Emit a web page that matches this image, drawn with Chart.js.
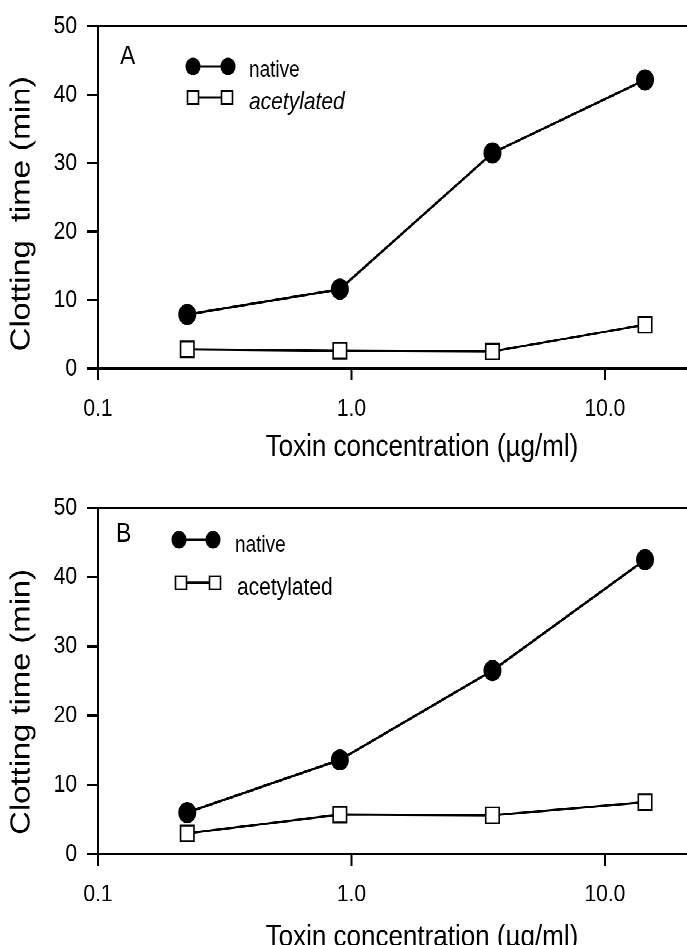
<!DOCTYPE html>
<html>
<head>
<meta charset="utf-8">
<script src="https://cdn.jsdelivr.net/npm/chart.js@4.4.0/dist/chart.umd.min.js"></script>
<style>
  html, body { margin: 0; padding: 0; background: #fff; overflow: hidden; width: 687px; height: 945px; }
  /* the scanned figure is a bit taller than wide, so stretch the drawing vertically;
     the plots run past the right edge of the page like in the cropped scan */
  #stage { position: absolute; left: 0; top: 0; width: 757px; height: 808px; transform: scaleY(1.17); transform-origin: 0 0; }
  .panel { position: absolute; left: 0; }
  #boxA { top: 0; }
  #boxB { top: 404px; }
</style>
</head>
<body>
<div id="stage">
  <div class="panel" id="boxA"><canvas id="chartA" width="757" height="404"></canvas></div>
  <div class="panel" id="boxB"><canvas id="chartB" width="757" height="419"></canvas></div>
</div>
<script>
// toxin concentrations (µg/ml), same for both panels
const concentrations = [0.225, 0.9, 3.6, 14.4];

// panel A: clotting time (min)
const nativeA = [7.9, 11.6, 31.5, 42.2];
const acetylatedA = [2.8, 2.6, 2.5, 6.4];

// panel B: clotting time (min)
const nativeB = [6.0, 13.6, 26.5, 42.5];
const acetylatedB = [3.0, 5.7, 5.6, 7.5];

const seriesNames = ['native', 'acetylated'];
const yTicks = [0, 10, 20, 30, 40, 50];
const xTicks = [0.1, 1, 10];
const xTickLabels = ['0.1', '1.0', '10.0'];

const FAMILY = 'Arial, "Liberation Sans", Helvetica, sans-serif';
Chart.defaults.font.family = FAMILY;
Chart.defaults.color = '#000';

// letter + in-plot legend (marker-line-marker, then the name)
const panelLegend = {
  id: 'panelLegend',
  afterDatasetsDraw(chart, args, o) {
    const ctx = chart.ctx;
    const left = chart.chartArea.left, top = chart.chartArea.top;
    ctx.save();
    ctx.fillStyle = '#000';
    ctx.strokeStyle = '#000';
    ctx.textAlign = 'left';
    ctx.textBaseline = 'alphabetic';
    ctx.font = '23px ' + FAMILY;
    ctx.fillText(o.letter, left + o.letterX, top + o.letterY);

    chart.data.datasets.forEach((ds, i) => {
      const row = o.rows[i];
      const y = top + row.iconY;
      const xs = [left + row.x1, left + row.x2];
      ctx.lineWidth = 2;
      ctx.beginPath();
      ctx.moveTo(xs[0], y);
      ctx.lineTo(xs[1], y);
      ctx.stroke();
      xs.forEach(x => {
        if (ds.pointStyle === 'circle') {
          ctx.beginPath();
          ctx.arc(x, y, 7.5, 0, Math.PI * 2);
          ctx.fill();
        } else {
          ctx.fillStyle = '#fff';
          ctx.fillRect(x - 5.5, y - 5.5, 11, 11);
          ctx.lineWidth = 1.6;
          ctx.strokeRect(x - 5.5, y - 5.5, 11, 11);
          ctx.fillStyle = '#000';
        }
      });
      ctx.font = (row.italic ? 'italic ' : '') + row.size + 'px ' + FAMILY;
      ctx.fillText(ds.label, left + row.textX, top + row.textY);
    });
    ctx.restore();
  }
};

function makePanel(canvasId, nativeVals, acetVals, cfg) {
  const toPoints = vals => concentrations.map((c, i) => ({ x: c, y: vals[i] }));

  return new Chart(document.getElementById(canvasId), {
    type: 'line',
    data: {
      datasets: [{
        label: seriesNames[0],
        data: toPoints(nativeVals),
        borderColor: '#000',
        borderWidth: 2.2,
        pointStyle: 'circle',
        pointRadius: 8.5,
        pointBackgroundColor: '#000',
        pointBorderColor: '#000',
        pointBorderWidth: 1
      }, {
        label: seriesNames[1],
        data: toPoints(acetVals),
        borderColor: '#000',
        borderWidth: 2,
        pointStyle: 'rect',
        pointRadius: 9.5,
        pointBackgroundColor: '#fff',
        pointBorderColor: '#000',
        pointBorderWidth: 1.6
      }]
    },
    options: {
      responsive: false,
      devicePixelRatio: 2,
      animation: false,
      layout: { padding: { top: cfg.padTop, right: 0, left: 0, bottom: 0 } },
      scales: {
        x: {
          type: 'logarithmic',
          min: 0.1,
          max: 36,
          afterBuildTicks: s => { s.ticks = xTicks.map(v => ({ value: v })); },
          afterFit: s => { s.height = cfg.xHeight; },
          ticks: {
            autoSkip: false,
            maxRotation: 0,
            padding: 12,
            font: { size: 21 },
            color: '#000',
            callback: v => xTickLabels[xTicks.indexOf(v)]
          },
          grid: { drawOnChartArea: false, tickLength: 10, tickColor: '#000', tickWidth: 2 },
          border: { display: true, color: '#000', width: 2 },
          title: {
            display: true,
            text: 'Toxin concentration (µg/ml)',
            font: { size: 26 },
            color: '#000',
            padding: { top: 0, bottom: 6 }
          }
        },
        y: {
          min: 0,
          max: 50,
          afterBuildTicks: s => { s.ticks = yTicks.map(v => ({ value: v })); },
          afterFit: s => { s.width = 98; },
          ticks: { padding: 10, font: { size: 21 }, color: '#000' },
          grid: {
            color: c => (c.tick && c.tick.value === 50) ? '#000' : 'rgba(0,0,0,0)',
            lineWidth: 2,
            tickColor: '#000',
            tickLength: 11,
            tickWidth: 2
          },
          border: { display: true, color: '#000', width: 2 },
          title: {
            display: true,
            text: cfg.yTitle,
            font: { size: 28 },
            color: '#000',
            padding: { top: 5, bottom: 0 }
          }
        }
      },
      plugins: {
        legend: { display: false },
        tooltip: { enabled: false },
        panelLegend: cfg.legend
      }
    },
    plugins: [panelLegend]
  });
}

// trailing en spaces nudge the rotated title a little lower, as in the scan
makePanel('chartA', nativeA, acetylatedA, {
  padTop: 19,
  xHeight: 89,
  yTitle: 'Clotting  time (min)\u2002\u2002',
  legend: {
    letter: 'A', letterX: 22, letterY: 32.5,
    rows: [
      { x1: 95, x2: 130, iconY: 34.2, textX: 151, textY: 42.7, size: 19, italic: false },
      { x1: 95, x2: 129, iconY: 60.7, textX: 151, textY: 70.9, size: 21, italic: true }
    ]
  }
});

makePanel('chartB', nativeB, acetylatedB, {
  padTop: 30,
  xHeight: 93,
  yTitle: 'Clotting time (min)\u2002\u2002 ',
  legend: {
    letter: 'B', letterX: 18, letterY: 29,
    rows: [
      { x1: 81, x2: 115, iconY: 27.3, textX: 137, textY: 37.6, size: 19, italic: false },
      { x1: 83, x2: 117, iconY: 64.1, textX: 139, textY: 74.3, size: 21, italic: false }
    ]
  }
});
</script>
</body>
</html>
